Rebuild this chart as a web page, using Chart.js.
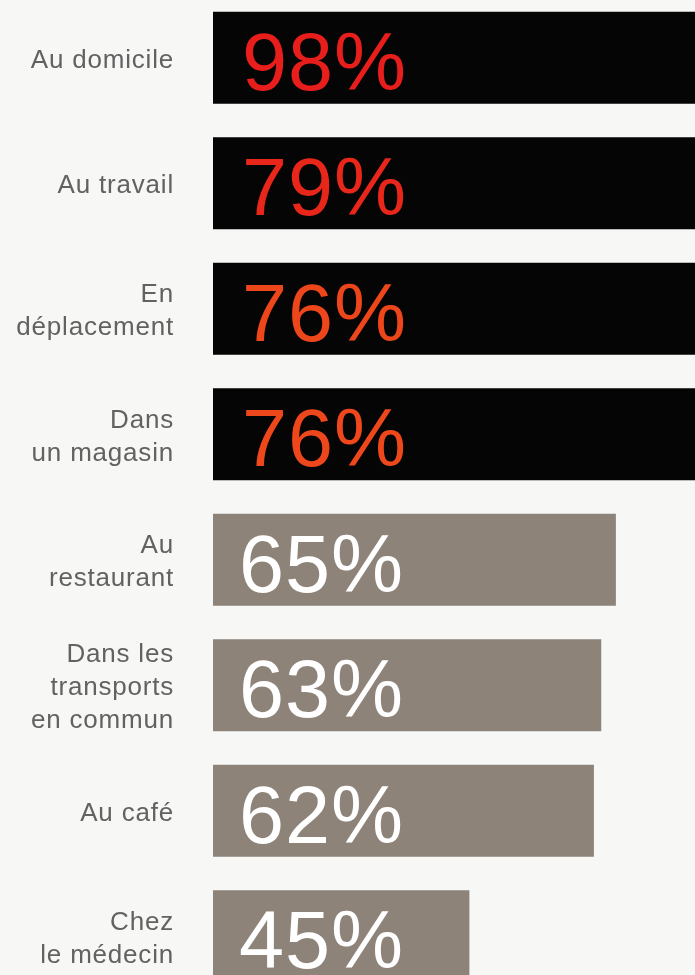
<!DOCTYPE html>
<html>
<head>
<meta charset="utf-8">
<script src="https://cdn.jsdelivr.net/npm/chart.js@4/dist/chart.umd.min.js"></script>
<style>
  html, body { margin: 0; padding: 0; background: #f7f7f6; overflow: hidden; }
  #wrap { position: absolute; left: 0; top: -5px; width: 695px; height: 1004px; }
</style>
</head>
<body>
<div id="wrap"><canvas id="mycanvas"></canvas></div>
<script>
// lieux (etiquettes) et pourcentages
var lieux = [
	'Au domicile',
	'Au travail',
	['En', 'déplacement'],
	['Dans', 'un magasin'],
	['Au', 'restaurant'],
	['Dans les', 'transports', 'en commun'],
	'Au café',
	['Chez', 'le médecin']
];
var pourcentages = [98, 79, 76, 76, 65, 63, 62, 45];

// couleurs
var couleursBarres = ['#050505', '#050505', '#050505', '#050505', '#8d8379', '#8d8379', '#8d8379', '#8d8379'];
var couleursTexte = ['#e81e1c', '#e8261a', '#ee461b', '#ee471b', '#ffffff', '#ffffff', '#ffffff', '#ffffff'];

var espacement = {
	id: 'espacement',
	beforeDraw: function(chart) {
		chart.ctx.letterSpacing = '0.8px';
	}
};

var etiquettes = {
	id: 'etiquettes',
	afterDatasetsDraw: function(chart) {
		var ctx = chart.ctx;
		var meta = chart.getDatasetMeta(0);
		var gauche = chart.chartArea.left;
		ctx.save();
		ctx.letterSpacing = '1px';
		ctx.font = '81px "Liberation Sans", Arial, sans-serif';
		ctx.textAlign = 'left';
		ctx.textBaseline = 'alphabetic';
		meta.data.forEach(function(bar, i) {
			ctx.fillStyle = couleursTexte[i];
			ctx.fillText(pourcentages[i] + '%', gauche + (i < 4 ? 29 : 26), bar.y + 32);
		});
		ctx.restore();
	}
};

var chartdata = {
	labels: lieux,
	datasets: [
		{
			data: pourcentages,
			backgroundColor: couleursBarres,
			borderWidth: 0,
			categoryPercentage: 1,
			barPercentage: 0.735
		}
	]
};

var ctx = document.getElementById('mycanvas');
var barGraph = new Chart(ctx, {
	type: 'bar',
	data: chartdata,
	plugins: [espacement, etiquettes],
	options: {
		indexAxis: 'y',
		responsive: true,
		maintainAspectRatio: false,
		animation: false,
		layout: { padding: 0 },
		plugins: {
			legend: { display: false },
			tooltip: { enabled: false }
		},
		scales: {
			x: {
				display: false,
				min: 10,
				max: 75.8
			},
			y: {
				afterFit: function(scale) {
					scale.width = 213;
					scale.paddingTop = 0;
					scale.paddingBottom = 0;
				},
				border: { display: false },
				grid: { display: false, drawTicks: false },
				ticks: {
					padding: 39,
					labelOffset: 3,
					color: '#626262',
					font: { family: '"Liberation Sans", Arial, sans-serif', size: 26, lineHeight: 1.27 }
				}
			}
		}
	}
});
</script>
</body>
</html>
